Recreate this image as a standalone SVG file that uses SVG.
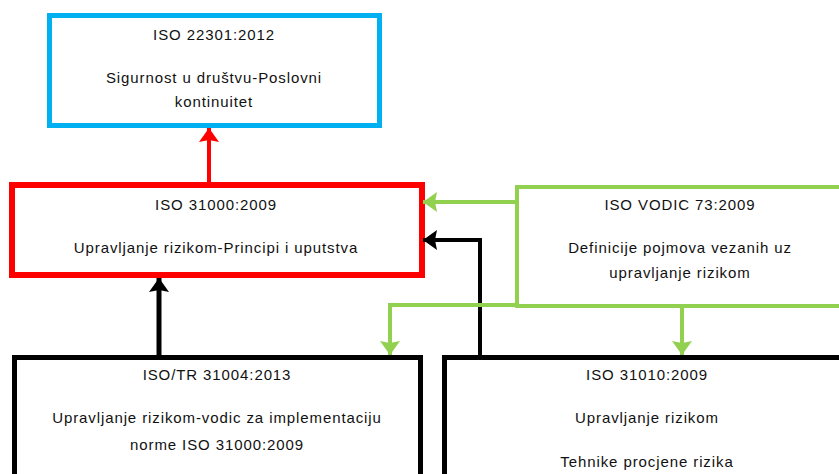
<svg xmlns="http://www.w3.org/2000/svg" width="839" height="474" viewBox="0 0 839 474">
<style>
text{font-family:"Liberation Sans",Arial,sans-serif;font-size:15px;letter-spacing:0.9px;fill:#111;text-anchor:middle}
.box{fill:#fff}
.c{fill:none;stroke-linejoin:miter}
</style>
<defs>
<marker id="ar" markerUnits="userSpaceOnUse" markerWidth="24" markerHeight="24" viewBox="0 0 24 24" refX="22" refY="12" orient="auto"><path d="M22,12 L8,2 L10,12 L8,22 Z" fill="#ff0000"/></marker>
<marker id="ak" markerUnits="userSpaceOnUse" markerWidth="24" markerHeight="24" viewBox="0 0 24 24" refX="22" refY="12" orient="auto"><path d="M22,12 L8,2 L10,12 L8,22 Z" fill="#000"/></marker>
<marker id="ag" markerUnits="userSpaceOnUse" markerWidth="24" markerHeight="24" viewBox="0 0 24 24" refX="22" refY="12" orient="auto"><path d="M22,12 L8,2 L10,12 L8,22 Z" fill="#92d050"/></marker>
</defs>
<rect width="839" height="474" fill="#fff"/>
<g id="n_iso22301">
<rect class="box" x="49.5" y="15.5" width="330" height="110" stroke="#00b0f0" stroke-width="5"/>
<text x="214" y="40">ISO 22301:2012</text>
<text x="214" y="83">Sigurnost u društvu-Poslovni</text>
<text x="214" y="107">kontinuitet</text>
</g>
<g id="n_iso31000">
<rect class="box" x="12" y="185" width="410" height="90" stroke="#ff0000" stroke-width="6"/>
<text x="216" y="210">ISO 31000:2009</text>
<text x="216" y="253">Upravljanje rizikom-Principi i uputstva</text>
</g>
<g id="n_vodic73">
<rect class="box" x="517" y="187" width="340" height="119" stroke="#92d050" stroke-width="4"/>
<text x="680" y="210">ISO VODIC 73:2009</text>
<text x="680" y="253">Definicije pojmova vezanih uz</text>
<text x="680" y="278">upravljanje rizikom</text>
</g>
<g id="n_iso31004">
<rect class="box" x="14.5" y="357.5" width="406" height="130" stroke="#000" stroke-width="5"/>
<text x="217" y="380">ISO/TR 31004:2013</text>
<text x="217" y="423">Upravljanje rizikom-vodic za implementaciju</text>
<text x="217" y="450">norme ISO 31000:2009</text>
</g>
<g id="n_iso31010">
<rect class="box" x="444.5" y="357.5" width="420" height="130" stroke="#000" stroke-width="5"/>
<text x="647" y="380">ISO 31010:2009</text>
<text x="647" y="423">Upravljanje rizikom</text>
<text x="647" y="467">Tehnike procjene rizika</text>
</g>
<g id="connectors">
<path class="c" d="M209,182 V128" stroke="#ff0000" stroke-width="4" marker-end="url(#ar)"/>
<path class="c" d="M159,355 V278" stroke="#000" stroke-width="5" marker-end="url(#ak)"/>
<path class="c" d="M480,355 V240 H423" stroke="#000" stroke-width="4" marker-end="url(#ak)"/>
<path class="c" d="M515,202 H423" stroke="#92d050" stroke-width="4" marker-end="url(#ag)"/>
<path class="c" d="M517,305 H390 V355" stroke="#92d050" stroke-width="4" marker-end="url(#ag)"/>
<path class="c" d="M682,306 V355" stroke="#92d050" stroke-width="4" marker-end="url(#ag)"/>
</g>
</svg>
